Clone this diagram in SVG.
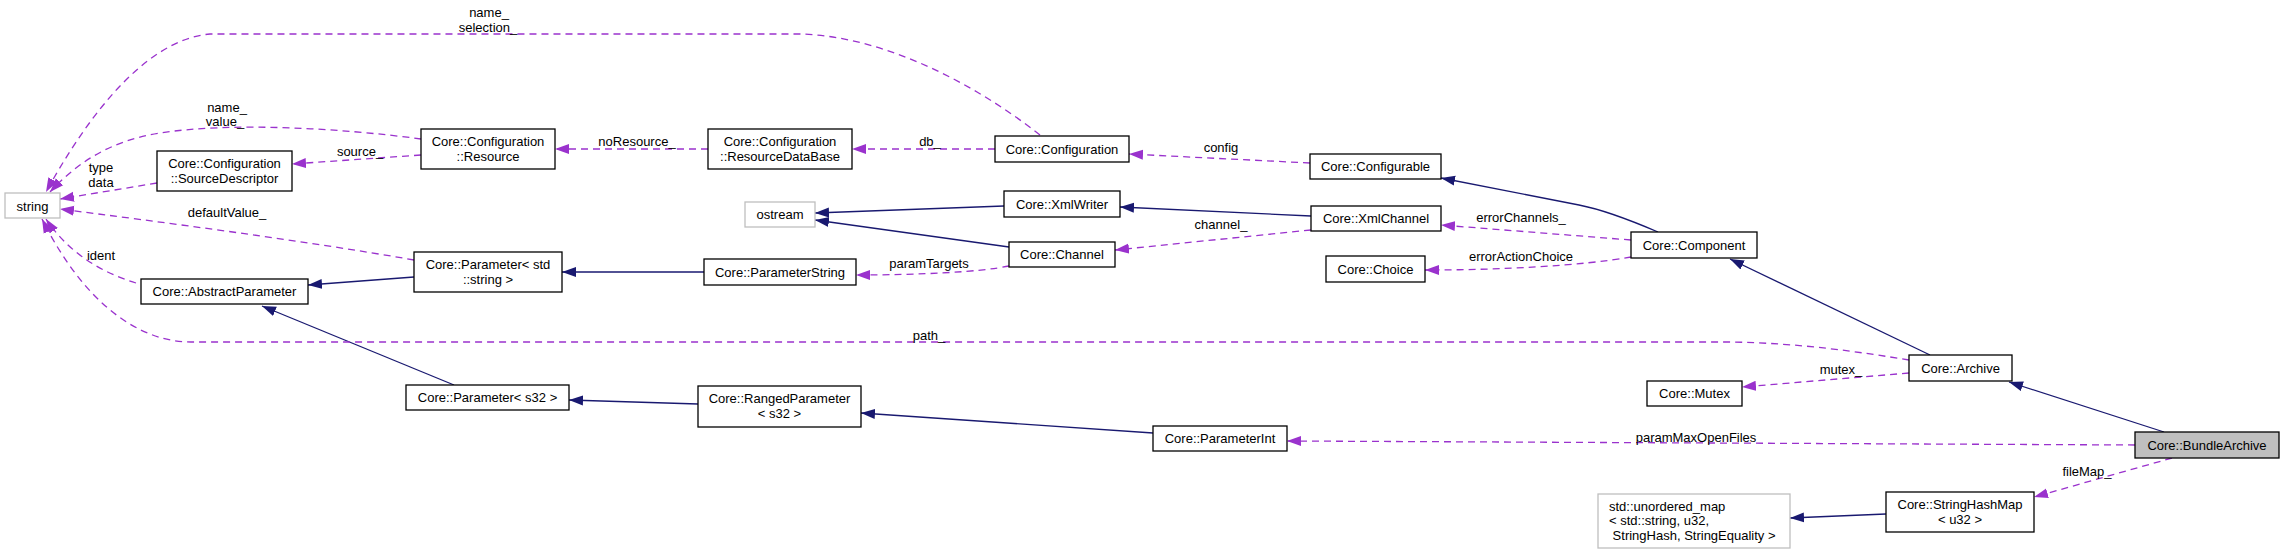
<svg xmlns="http://www.w3.org/2000/svg" width="2284" height="555" viewBox="0 0 2284 555">
<style>
.n rect{fill:#fff;stroke:#000;stroke-width:1.3}
.g rect{fill:#fff;stroke:#bfbfbf;stroke-width:1.3}
.h rect{fill:#bfbfbf;stroke:#000;stroke-width:1.3}
text{font-family:"Liberation Sans",Arial,sans-serif;font-size:13px;fill:#000;text-anchor:middle}
.l{text-anchor:start}
.s{fill:none;stroke:#191970;stroke-width:1.3}
.d{fill:none;stroke:#9a32cd;stroke-width:1.3;stroke-dasharray:7,5}
</style>
<defs>
<marker id="an" markerWidth="15" markerHeight="11" refX="14" refY="5.5" orient="auto" markerUnits="userSpaceOnUse"><path d="M0,0.5 L14,5.5 L0,10.5 Z" fill="#191970"/></marker>
<marker id="ap" markerWidth="15" markerHeight="11" refX="14" refY="5.5" orient="auto" markerUnits="userSpaceOnUse"><path d="M0,0.5 L14,5.5 L0,10.5 Z" fill="#9a32cd"/></marker>
</defs>
<rect width="2284" height="555" fill="#fff"/>
<g id="edges">
<path class="s" marker-end="url(#an)" d="M414,277 L308,285"/>
<path class="s" marker-end="url(#an)" d="M454,385 L262,306"/>
<path class="s" marker-end="url(#an)" d="M704,272 L562,272"/>
<path class="s" marker-end="url(#an)" d="M698,404 L569,400"/>
<path class="s" marker-end="url(#an)" d="M1153,433 L861,413"/>
<path class="s" marker-end="url(#an)" d="M1004,206 L815,213"/>
<path class="s" marker-end="url(#an)" d="M1009,247 L815,220"/>
<path class="s" marker-end="url(#an)" d="M1311,216 L1120,207"/>
<path class="s" marker-end="url(#an)" d="M1658,232 C1630,220 1605,210 1579,205 L1441,178"/>
<path class="s" marker-end="url(#an)" d="M1930,355 L1730,259"/>
<path class="s" marker-end="url(#an)" d="M2164,432 L2009,382"/>
<path class="s" marker-end="url(#an)" d="M1886,514 L1790,518"/>
<path class="d" marker-end="url(#ap)" d="M1040,135 C970,80 880,36 800,34 L210,34 C140,40 80,130 46,192"/>
<path class="d" marker-end="url(#ap)" d="M421,139 C340,128 230,122 160,133 C110,141 78,162 50,192"/>
<path class="d" marker-end="url(#ap)" d="M157,183 L60,199"/>
<path class="d" marker-end="url(#ap)" d="M421,155 L292,164"/>
<path class="d" marker-end="url(#ap)" d="M708,149 L555,149"/>
<path class="d" marker-end="url(#ap)" d="M995,149 L852,149"/>
<path class="d" marker-end="url(#ap)" d="M1310,163 L1129,154"/>
<path class="d" marker-end="url(#ap)" d="M414,260 C300,240 160,222 60,209"/>
<path class="d" marker-end="url(#ap)" d="M136,283 C100,272 68,252 46,219"/>
<path class="d" marker-end="url(#ap)" d="M1909,360 C1860,352 1800,343 1730,342 L191,342 C140,342 85,305 42,219"/>
<path class="d" marker-end="url(#ap)" d="M1311,230 L1115,250"/>
<path class="d" marker-end="url(#ap)" d="M1009,266 C980,272 920,275 856,275"/>
<path class="d" marker-end="url(#ap)" d="M1631,240 L1441,225"/>
<path class="d" marker-end="url(#ap)" d="M1631,257 C1580,266 1500,270 1425,270"/>
<path class="d" marker-end="url(#ap)" d="M1909,373 L1742,387"/>
<path class="d" marker-end="url(#ap)" d="M2135,445 L1287,441"/>
<path class="d" marker-end="url(#ap)" d="M2172,458 L2034,497"/>
<text x="489" y="16.5">name_</text>
<text x="488" y="31.5">selection_</text>
<text x="227" y="111.5">name_</text>
<text x="225" y="125.5">value_</text>
<text x="360" y="155.5">source_</text>
<text x="101" y="172">type</text>
<text x="101" y="187">data</text>
<text x="227" y="216.5">defaultValue_</text>
<text x="101" y="260">ident</text>
<text x="637" y="145.5">noResource_</text>
<text x="930" y="145.5">db_</text>
<text x="1221" y="151.5">config</text>
<text x="1221" y="228.5">channel_</text>
<text x="929" y="267.5">paramTargets</text>
<text x="1521" y="221.5">errorChannels_</text>
<text x="1521" y="260.5">errorActionChoice</text>
<text x="929" y="339.5">path_</text>
<text x="1841" y="373.5">mutex_</text>
<text x="1696" y="441.5">paramMaxOpenFiles</text>
<text x="2087" y="475.5">fileMap_</text>
</g>
<g id="string" class="g"><rect x="5" y="193" width="55" height="25"/><text x="32.5" y="210.5">string</text></g>
<g id="sourceDescriptor" class="n"><rect x="157" y="151" width="135" height="40"/><text x="224.5" y="167.5">Core::Configuration</text><text x="224.5" y="182.5">::SourceDescriptor</text></g>
<g id="resource" class="n"><rect x="421" y="129" width="134" height="40"/><text x="488" y="145.5">Core::Configuration</text><text x="488" y="160.5">::Resource</text></g>
<g id="resourceDataBase" class="n"><rect x="708" y="129" width="144" height="40"/><text x="780" y="145.5">Core::Configuration</text><text x="780" y="160.5">::ResourceDataBase</text></g>
<g id="configuration" class="n"><rect x="995" y="136" width="134" height="26"/><text x="1062" y="153.5">Core::Configuration</text></g>
<g id="configurable" class="n"><rect x="1310" y="154" width="131" height="25"/><text x="1375.5" y="171">Core::Configurable</text></g>
<g id="ostream" class="g"><rect x="745" y="202" width="70" height="25"/><text x="780" y="219">ostream</text></g>
<g id="xmlWriter" class="n"><rect x="1004" y="191" width="116" height="26"/><text x="1062" y="208.5">Core::XmlWriter</text></g>
<g id="xmlChannel" class="n"><rect x="1311" y="206" width="130" height="25"/><text x="1376" y="223">Core::XmlChannel</text></g>
<g id="channel" class="n"><rect x="1009" y="242" width="106" height="25"/><text x="1062" y="259">Core::Channel</text></g>
<g id="parameterString" class="n"><rect x="704" y="259" width="152" height="26"/><text x="780" y="276.5">Core::ParameterString</text></g>
<g id="choice" class="n"><rect x="1326" y="256" width="99" height="26"/><text x="1375.5" y="273.5">Core::Choice</text></g>
<g id="component" class="n"><rect x="1631" y="232" width="126" height="26"/><text x="1694" y="249.5">Core::Component</text></g>
<g id="parameterStdString" class="n"><rect x="414" y="252" width="148" height="40"/><text x="488" y="268.5">Core::Parameter&lt; std</text><text x="488" y="283.5">::string &gt;</text></g>
<g id="abstractParameter" class="n"><rect x="141" y="279" width="167" height="25"/><text x="224.5" y="296">Core::AbstractParameter</text></g>
<g id="parameterS32" class="n"><rect x="406" y="385" width="163" height="25"/><text x="487.5" y="402">Core::Parameter&lt; s32 &gt;</text></g>
<g id="rangedParameter" class="n"><rect x="698" y="386" width="163" height="41"/><text x="779.5" y="403">Core::RangedParameter</text><text x="779.5" y="418">&lt; s32 &gt;</text></g>
<g id="parameterInt" class="n"><rect x="1153" y="426" width="134" height="25"/><text x="1220" y="443">Core::ParameterInt</text></g>
<g id="mutex" class="n"><rect x="1647" y="381" width="95" height="25"/><text x="1694.5" y="398">Core::Mutex</text></g>
<g id="archive" class="n"><rect x="1909" y="355" width="103" height="26"/><text x="1960.5" y="372.5">Core::Archive</text></g>
<g id="bundleArchive" class="h"><rect x="2135" y="432" width="144" height="26"/><text x="2207" y="449.5">Core::BundleArchive</text></g>
<g id="stringHashMap" class="n"><rect x="1886" y="492" width="148" height="40"/><text x="1960" y="508.5">Core::StringHashMap</text><text x="1960" y="523.5">&lt; u32 &gt;</text></g>
<g id="unorderedMap" class="g"><rect x="1598" y="494" width="192" height="54"/><text class="l" x="1609" y="510.5">std::unordered_map</text><text class="l" x="1609" y="524.5">&lt; std::string, u32,</text><text class="l" x="1609" y="539.5" xml:space="preserve"> StringHash, StringEquality &gt;</text></g>
</svg>
